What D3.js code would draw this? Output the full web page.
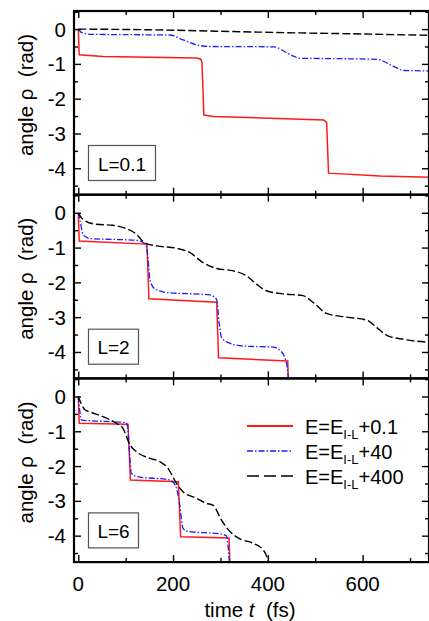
<!DOCTYPE html>
<html><head><meta charset="utf-8">
<script src="https://cdn.jsdelivr.net/npm/d3@7"></script>
<style>body{margin:0;background:#fff}svg{display:block;font-family:"Liberation Sans",Arial,sans-serif}</style>
</head><body><svg id="c" width="429" height="621"></svg>
<script>
// ---- data ----
const panelLabels = ["L=0.1", "L=2", "L=6"];
const seriesNames = ["+0.1", "+40", "+400"];
const xMajorTicks = [0, 200, 400, 600];
const xMinorTicks = [100, 300, 500, 700];
const yMajorTicks = [0, -1, -2, -3, -4];
const yMinorTicks = [0.5, -0.5, -1.5, -2.5, -3.5, -4.5];

// panel 1 (L=0.1)
const red1T = [0, 2, 52, 249, 258, 261, 265, 286, 518, 524, 528, 637, 740];
const red1V = [0, -0.74, -0.79, -0.83, -0.86, -0.95, -2.47, -2.51, -2.61, -2.68, -4.14, -4.22, -4.26];
const blue1T = [0, 5, 15, 24, 100, 193, 221, 249, 277, 412, 448, 469, 550, 630, 666, 687, 740];
const blue1V = [0, -0.08, -0.13, -0.15, -0.16, -0.17, -0.31, -0.45, -0.5, -0.51, -0.74, -0.84, -0.85, -0.87, -1.08, -1.19, -1.2];
const black1T = [0, 150, 290, 467, 600, 740];
const black1V = [0, -0.02, -0.06, -0.11, -0.14, -0.18];

// panel 2 (L=2)
const red2T = [0, 2, 145, 149, 292, 296, 442, 444];
const red2V = [0, -0.81, -0.9, -2.47, -2.57, -4.17, -4.26, -5.2];
const blue2T = [0, 4, 10, 17, 24, 60, 123, 137, 143, 147, 151, 158, 170, 186, 277, 287, 292, 297, 302, 313, 348, 411, 429, 440, 446];
const blue2V = [0, -0.24, -0.62, -0.7, -0.74, -0.76, -0.79, -0.86, -0.95, -1.29, -1.9, -2.14, -2.24, -2.29, -2.36, -2.42, -2.5, -3.14, -3.57, -3.71, -3.83, -3.86, -4.0, -4.38, -5.2];
const black2T = [0, 10, 38, 73, 102, 123, 140, 165, 207, 235, 263, 292, 327, 355, 376, 397, 432, 474, 495, 525, 567, 609, 630, 651, 687, 740];
const black2V = [0, -0.19, -0.33, -0.36, -0.46, -0.62, -0.86, -0.95, -1.02, -1.14, -1.43, -1.6, -1.67, -1.81, -2.05, -2.24, -2.33, -2.38, -2.57, -2.9, -3.0, -3.09, -3.3, -3.52, -3.64, -3.72];

// panel 3 (L=6)
const red3T = [0, 2, 105, 110, 211, 216, 318, 321];
const red3V = [0, -0.77, -0.8, -2.4, -2.45, -4.03, -4.07, -5.2];
const blue3T = [0, 3, 7, 30, 100, 104, 107, 112, 123, 193, 205, 214, 221, 232, 300, 312, 316, 321];
const blue3V = [0, -0.4, -0.68, -0.7, -0.75, -0.85, -1.39, -2.2, -2.3, -2.4, -2.55, -3.1, -3.79, -3.88, -3.95, -4.0, -4.3, -5.2];
const black3T = [0, 6, 14, 24, 52, 80, 94, 109, 123, 151, 172, 189, 207, 221, 249, 270, 284, 302, 320, 341, 369, 390, 400, 405];
const black3V = [0, -0.2, -0.38, -0.44, -0.58, -0.77, -0.91, -1.39, -1.59, -1.78, -1.87, -2.06, -2.49, -2.74, -2.92, -3.07, -3.12, -3.55, -3.88, -4.09, -4.22, -4.41, -4.7, -5.2];

const panelsData = [
  [[red1T, red1V], [blue1T, blue1V], [black1T, black1V]],
  [[red2T, red2V], [blue2T, blue2V], [black2T, black2V]],
  [[red3T, red3V], [blue3T, blue3V], [black3T, black3V]]
];

// ---- layout ----
const svg = d3.select("#c");
const L = 74, R = 429, H = 183.7;
const tops = [11, 194.7, 378.4];
const x = d3.scaleLinear().domain([-9, 740]).range([L, R]);
const styles = [
  {color: "#ff1a1a", width: 1.5, dash: null, curve: d3.curveLinear},
  {color: "#1c1cff", width: 1.3, dash: "6,2,1.5,2", curve: d3.curveMonotoneX},
  {color: "#000", width: 1.4, dash: "8,3", curve: d3.curveMonotoneX}
];

panelsData.forEach((series, p) => {
  const top = tops[p];
  const y = d3.scaleLinear().domain([-4.76, 0.52]).range([top + H, top]);
  const g = svg.append("g");
  const clipId = "clip" + p;
  svg.append("clipPath").attr("id", clipId).append("rect")
    .attr("x", L).attr("y", top).attr("width", R - L).attr("height", H);

  const lg = g.append("g").attr("clip-path", `url(#${clipId})`);
  series.forEach(([T, V], i) => {
    const st = styles[i];
    const line = d3.line().x(d => x(d[0])).y(d => y(d[1])).curve(st.curve);
    lg.append("path").datum(T.map((t, k) => [t, V[k]]))
      .attr("d", line).attr("fill", "none")
      .attr("stroke", st.color).attr("stroke-width", st.width)
      .attr("stroke-dasharray", st.dash);
  });

  const mk = (axis, sc, ticks, size) => axis(sc).tickValues(ticks).tickSize(size).tickFormat("");
  const addAxis = (axisGen, tx, ty) => {
    const a = g.append("g").attr("transform", `translate(${tx},${ty})`).call(axisGen);
    a.select(".domain").remove();
    a.selectAll("line").attr("stroke", "#000").attr("stroke-width", 1.4);
  };
  addAxis(mk(d3.axisLeft, y, yMajorTicks, -7), L, 0);
  addAxis(mk(d3.axisLeft, y, yMinorTicks, -4), L, 0);
  addAxis(mk(d3.axisRight, y, yMajorTicks, -7), R, 0);
  addAxis(mk(d3.axisRight, y, yMinorTicks, -4), R, 0);
  addAxis(mk(d3.axisBottom, x, xMajorTicks, -7), 0, top + H);
  addAxis(mk(d3.axisBottom, x, xMinorTicks, -4), 0, top + H);
  addAxis(mk(d3.axisTop, x, xMajorTicks, -7), 0, top);
  addAxis(mk(d3.axisTop, x, xMinorTicks, -4), 0, top);

  g.selectAll("text.yl").data(yMajorTicks).join("text")
    .attr("x", 66).attr("y", d => y(d) + 7.5)
    .attr("text-anchor", "end").attr("font-size", 20.5).text(d => d === 0 ? "0" : "-" + Math.abs(d));

  g.append("rect").attr("x", L).attr("y", top).attr("width", R - L).attr("height", H)
    .attr("fill", "none").attr("stroke", "#000").attr("stroke-width", 2.2);

  g.append("text").attr("transform", `translate(33,${top + 84}) rotate(-90)`)
    .attr("text-anchor", "middle").attr("font-size", 20.5)
    .text("angle ρ\u00a0\u00a0(rad)");

  const bw = p === 0 ? 67 : 50;
  g.append("rect").attr("x", 88.5).attr("y", top + 134.5).attr("width", bw).attr("height", 35)
    .attr("fill", "#fff").attr("stroke", "#555").attr("stroke-width", 1.2);
  g.append("text").attr("x", 88.5 + bw / 2).attr("y", top + 159.5).attr("text-anchor", "middle")
    .attr("font-size", 19).text(panelLabels[p]);
});

svg.selectAll("text.xl").data(xMajorTicks).join("text")
  .attr("x", d => x(d)).attr("y", 591).attr("text-anchor", "middle")
  .attr("font-size", 20.5).text(d => d);

const xl = svg.append("text").attr("x", 250).attr("y", 617).attr("text-anchor", "middle").attr("font-size", 20.5);
xl.append("tspan").text("time ");
xl.append("tspan").attr("font-style", "italic").text("t");
xl.append("tspan").text("\u00a0\u00a0(fs)");

const leg = svg.append("g");
seriesNames.forEach((nm, i) => {
  const ly = 426 + i * 25;
  const st = styles[i];
  leg.append("line").attr("x1", 247).attr("x2", 293).attr("y1", ly).attr("y2", ly)
    .attr("stroke", st.color).attr("stroke-width", i === 0 ? 2 : 1.3)
    .attr("stroke-dasharray", i === 2 ? "12,5" : st.dash);
  const t = leg.append("text").attr("x", 305).attr("y", ly + 8).attr("font-size", 20);
  t.append("tspan").text("E=E");
  t.append("tspan").attr("font-size", 13).attr("dy", 5).text("I-L");
  t.append("tspan").attr("dy", -5).text(nm);
});
</script></body></html>
